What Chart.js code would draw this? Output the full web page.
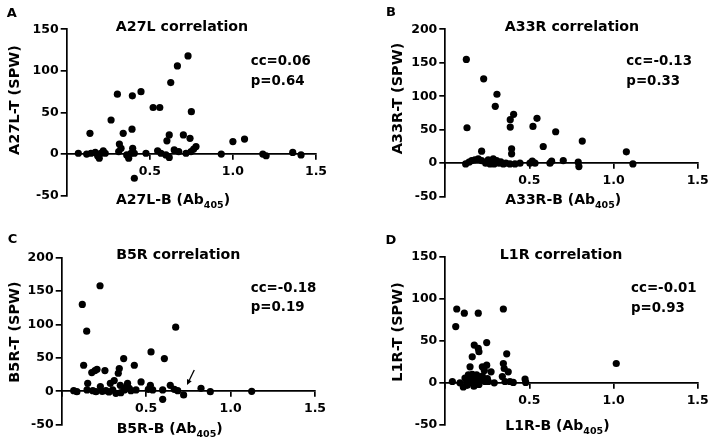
<!DOCTYPE html>
<html>
<head>
<meta charset="utf-8">
<script src="https://cdn.jsdelivr.net/npm/chart.js@4.4.1/dist/chart.umd.min.js"></script>
<style>
  html, body { margin: 0; padding: 0; background: #fff; }
  #page { position: relative; width: 714px; height: 443px; overflow: hidden; }
  .panel { position: absolute; }
</style>
</head>
<body>
<div id="page">
  <div class="panel" style="left:0;top:0"><canvas id="chartA" width="357" height="222"></canvas></div>
  <div class="panel" style="left:357px;top:0"><canvas id="chartB" width="357" height="222"></canvas></div>
  <div class="panel" style="left:0;top:222px"><canvas id="chartC" width="357" height="221"></canvas></div>
  <div class="panel" style="left:357px;top:222px"><canvas id="chartD" width="357" height="221"></canvas></div>
</div>
<script>
// [B value (Ab405), T value (SPW)] per subject
const a27lPoints = [
  [0.07, 1], [0.12, 0], [0.14, 25], [0.146, 1], [0.172, 2], [0.186, -2], [0.196, -5], [0.206, 1],
  [0.22, 4], [0.232, 1], [0.267, 41], [0.305, 72], [0.313, 3], [0.317, 12], [0.327, 7], [0.34, 25],
  [0.361, -1], [0.373, -5], [0.387, 1], [0.393, 30], [0.395, 70], [0.397, 7], [0.407, 1], [0.407, -29],
  [0.447, 75], [0.477, 1], [0.52, 56], [0.547, 4], [0.56, 56], [0.567, 1], [0.597, -1], [0.603, 16],
  [0.617, 23], [0.617, -4], [0.626, 86], [0.647, 5], [0.666, 106], [0.674, 3], [0.702, 23], [0.718, 1],
  [0.73, 118], [0.742, 19], [0.748, 3], [0.75, 51], [0.764, 6], [0.778, 9], [0.93, 0], [1.0, 15],
  [1.07, 18], [1.18, 0], [1.2, -2], [1.36, 2], [1.41, -1]
];
const a33rPoints = [
  [0.121, -1], [0.125, 155], [0.129, 53], [0.141, 1.5], [0.157, 4], [0.176, 5], [0.196, 6.5], [0.216, 18],
  [0.216, 4], [0.228, 126], [0.24, 0], [0.255, 5], [0.266, -1], [0.27, 3], [0.285, 6.5], [0.29, -1],
  [0.297, 85], [0.305, 4], [0.307, 103], [0.319, 0], [0.33, 2], [0.345, -1], [0.36, 0], [0.384, -1],
  [0.386, 65], [0.386, 54], [0.394, 21.6], [0.394, 14], [0.406, 73], [0.414, -1], [0.444, 0], [0.503, 0],
  [0.517, 3], [0.521, 55], [0.533, 0], [0.545, 67], [0.582, 25], [0.622, 0], [0.632, 3], [0.656, 47],
  [0.701, 4], [0.79, 1.5], [0.794, -5], [0.814, 33], [1.076, 17], [1.115, -1]
];
const b5rPoints = [
  [0.071, 1], [0.09, -0.5], [0.122, 130], [0.13, 39], [0.148, 90], [0.15, 2], [0.154, 12], [0.178, 28],
  [0.184, 1], [0.197, 31], [0.203, -0.5], [0.209, 33], [0.227, 158], [0.229, 7], [0.24, 0], [0.256, 31],
  [0.262, 1], [0.28, -1], [0.288, 12], [0.302, 2], [0.311, 16], [0.321, -3], [0.335, 27], [0.341, 34],
  [0.347, 9], [0.35, -2], [0.367, 49], [0.371, 2], [0.38, 6], [0.39, 12], [0.4, 4.5], [0.41, 1],
  [0.43, 39], [0.44, 2], [0.47, 14], [0.513, 3], [0.525, 9], [0.529, 59], [0.539, 2], [0.598, 2],
  [0.598, -12], [0.608, 49], [0.643, 9], [0.667, 3], [0.675, 96], [0.687, 1], [0.722, -5.5], [0.825, 4.5],
  [0.88, -0.5], [1.125, 0]
];
const l1rPoints = [
  [0.042, 1.5], [0.062, 67], [0.068, 88], [0.087, 0], [0.107, -5], [0.113, 83], [0.117, 5.6], [0.127, 1.5],
  [0.13, -3], [0.137, 9.5], [0.147, 19], [0.15, 3], [0.153, 0.4], [0.16, 31], [0.16, 10], [0.166, 5.6],
  [0.172, 45], [0.17, -4], [0.18, 0], [0.186, 9.5], [0.19, 5], [0.196, 83], [0.196, 41], [0.2, 37],
  [0.2, -2], [0.212, 3.6], [0.22, 19], [0.22, 8], [0.232, 14.6], [0.236, 1.5], [0.246, 21], [0.246, 48],
  [0.25, 5], [0.256, 1.5], [0.272, 13], [0.291, 0], [0.339, 7.5], [0.345, 88], [0.345, 23], [0.35, 17],
  [0.355, 1.5], [0.365, 34.5], [0.374, 13], [0.384, 1.5], [0.404, 0.4], [0.474, 4.4], [0.478, 0.4], [1.016, 23]
];

const panelLetters = ["A", "B", "C", "D"];
const panelTitles = ["A27L correlation", "A33R correlation", "B5R correlation", "L1R correlation"];
const ccLabels = ["cc=0.06", "cc=-0.13", "cc=-0.18", "cc=-0.01"];
const pLabels = ["p=0.64", "p=0.33", "p=0.19", "p=0.93"];
const yTitles = ["A27L-T (SPW)", "A33R-T (SPW)", "B5R-T (SPW)", "L1R-T (SPW)"];
const xTitles = ["A27L-B (Ab", "A33R-B (Ab", "B5R-B (Ab", "L1R-B (Ab"];
const xSubscript = "405";
const yMaxes = [150, 200, 200, 150];
const yMin = -50;
const yStep = 50;
const xMax = 1.5;
const xStep = 0.5;
// arrow in panel C, from / to in data units
const arrowFrom = [0.785, 32];
const arrowTo = [0.742, 9.5];

const FONT = '"DejaVu Sans", sans-serif';

// canvas-pixel layout of each panel: plot area [left, top, right, bottom] and text anchors
const layouts = [
  { id: "chartA", area: [66.7, 29.3, 316, 195.7], letter: [11.7, 13.3], title: [182, 27], stats: [250.7, 61.7, 82],
    yTitle: [15, 100], xTitle: [116, 203.5] },
  { id: "chartB", area: [88.3, 29.3, 340.7, 196.7], letter: [34, 12.5], title: [215, 27], stats: [269.3, 61.7, 81.7],
    yTitle: [41.7, 98.5], xTitle: [148.3, 204] },
  { id: "chartC", area: [61.7, 35.7, 315, 202.7], letter: [12.5, 18], title: [178.3, 33.3], stats: [250.7, 66.7, 86],
    yTitle: [15, 110], xTitle: [116.7, 210.5] },
  { id: "chartD", area: [88.3, 35, 340.7, 202.7], letter: [34, 19], title: [204, 33.3], stats: [274, 66.7, 86.7],
    yTitle: [41.7, 110], xTitle: [148.3, 208.3] }
];

const panelText = {
  id: "panelText",
  afterDraw(chart, args, o) {
    const ctx = chart.ctx;
    const L = o.layout;
    ctx.save();
    ctx.fillStyle = "#000";
    ctx.textBaseline = "middle";

    ctx.textAlign = "center";
    ctx.font = "bold 13px " + FONT;
    ctx.fillText(o.letter, L.letter[0], L.letter[1]);

    ctx.font = "bold 14.2px " + FONT;
    ctx.fillText(o.title, L.title[0], L.title[1]);

    ctx.textAlign = "left";
    ctx.font = "bold 13.4px " + FONT;
    ctx.fillText(o.cc, L.stats[0], L.stats[1]);
    ctx.fillText(o.p, L.stats[0], L.stats[2]);

    // y title, rotated
    ctx.save();
    ctx.translate(L.yTitle[0], L.yTitle[1]);
    ctx.rotate(-Math.PI / 2);
    ctx.textAlign = "center";
    ctx.font = "bold 14.5px " + FONT;
    ctx.fillText(o.yTitle, 0, 0);
    ctx.restore();

    // x title with subscript
    ctx.textBaseline = "alphabetic";
    let x = L.xTitle[0];
    const base = L.xTitle[1];
    ctx.font = "bold 14px " + FONT;
    ctx.fillText(o.xTitle, x, base);
    x += ctx.measureText(o.xTitle).width;
    ctx.font = "bold 9.5px " + FONT;
    ctx.fillText(xSubscript, x, base + 4);
    x += ctx.measureText(xSubscript).width;
    ctx.font = "bold 14px " + FONT;
    ctx.fillText(")", x, base);

    if (o.arrow) {
      const sx = chart.scales.x, sy = chart.scales.y;
      const x1 = sx.getPixelForValue(o.arrow.from[0]), y1 = sy.getPixelForValue(o.arrow.from[1]);
      const x2 = sx.getPixelForValue(o.arrow.to[0]), y2 = sy.getPixelForValue(o.arrow.to[1]);
      const ang = Math.atan2(y2 - y1, x2 - x1);
      ctx.strokeStyle = "#000";
      ctx.lineWidth = 1.3;
      ctx.beginPath();
      ctx.moveTo(x1, y1);
      ctx.lineTo(x2 - 3 * Math.cos(ang), y2 - 3 * Math.sin(ang));
      ctx.stroke();
      ctx.beginPath();
      ctx.moveTo(x2, y2);
      ctx.lineTo(x2 - 6 * Math.cos(ang - 0.45), y2 - 6 * Math.sin(ang - 0.45));
      ctx.lineTo(x2 - 6 * Math.cos(ang + 0.45), y2 - 6 * Math.sin(ang + 0.45));
      ctx.closePath();
      ctx.fill();
    }
    ctx.restore();
  }
};

const allPoints = [a27lPoints, a33rPoints, b5rPoints, l1rPoints];

layouts.forEach((L, i) => {
  const canvas = document.getElementById(L.id);
  const [left, top, right, bottom] = L.area;
  new Chart(canvas, {
    type: "scatter",
    data: {
      datasets: [{
        data: allPoints[i].map(([x, y]) => ({ x, y })),
        backgroundColor: "#000",
        borderWidth: 0,
        pointRadius: 3.6,
        pointHoverRadius: 3.6
      }]
    },
    options: {
      responsive: false,
      animation: false,
      events: [],
      layout: {
        padding: { left: 0, top: top, right: canvas.width - right, bottom: canvas.height - bottom }
      },
      scales: {
        x: {
          type: "linear",
          min: 0,
          max: xMax,
          position: { y: 0 },
          grid: { drawOnChartArea: false, drawTicks: true, tickLength: 5, color: "#000", lineWidth: 1.7 },
          border: { display: true, color: "#000", width: 1.7 },
          ticks: {
            stepSize: xStep,
            padding: 5,
            color: "#000",
            maxRotation: 0,
            font: { family: FONT, size: 12.5, weight: "bold" },
            callback: (v) => (v === 0 ? "" : v.toFixed(1))
          }
        },
        y: {
          type: "linear",
          min: yMin,
          max: yMaxes[i],
          position: "left",
          afterFit: (s) => { s.width = left; },
          grid: { drawOnChartArea: false, drawTicks: true, tickLength: 6, color: "#000", lineWidth: 1.7 },
          border: { display: true, color: "#000", width: 1.7 },
          ticks: {
            stepSize: yStep,
            padding: 2,
            color: "#000",
            font: { family: FONT, size: 12.5, weight: "bold" }
          }
        }
      },
      plugins: {
        legend: { display: false },
        tooltip: { enabled: false },
        panelText: {
          layout: L,
          letter: panelLetters[i],
          title: panelTitles[i],
          cc: ccLabels[i],
          p: pLabels[i],
          yTitle: yTitles[i],
          xTitle: xTitles[i],
          arrow: i === 2 ? { from: arrowFrom, to: arrowTo } : null
        }
      }
    },
    plugins: [panelText]
  });
});
</script>
</body>
</html>
